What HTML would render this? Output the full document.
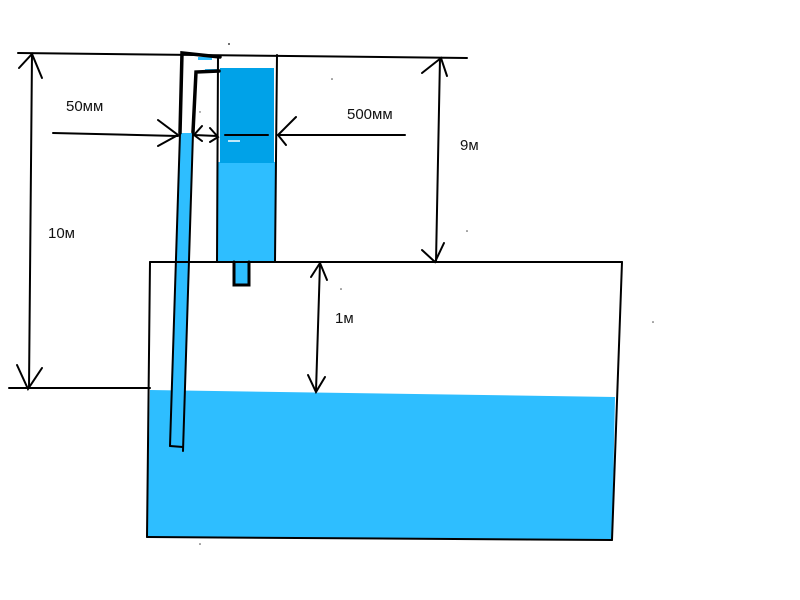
<!DOCTYPE html>
<html><head><meta charset="utf-8"><style>
html,body{margin:0;padding:0;background:#fff;}
svg{display:block;}
text{font-family:"Liberation Sans",Arial,sans-serif;font-size:15px;fill:#111;}
</style></head><body>
<svg width="800" height="600" viewBox="0 0 800 600" xmlns="http://www.w3.org/2000/svg">
<rect width="800" height="600" fill="#fff"/>
<!-- tank water -->
<polygon points="150,390 615,397 612,540 147,537" fill="#2ebeff"/>
<!-- column fills -->
<rect x="218" y="162" width="57" height="100" fill="#2ebeff"/>
<rect x="220" y="68" width="54" height="95" fill="#00a2e8"/>
<rect x="234" y="262" width="15" height="23" fill="#2ebeff"/>
<!-- thin pipe fill -->
<polygon points="180,133 193,133 183,449 170,446" fill="#2ebeff"/>
<rect x="198" y="57" width="14" height="3" fill="#2ebeff"/>
<rect x="205" y="69" width="12" height="3" fill="#2ebeff"/>
<g stroke="#000" stroke-width="2" fill="none" stroke-linecap="round">
<!-- top line -->
<line x1="18" y1="53" x2="467" y2="58"/>
<!-- 10m arrow -->
<line x1="32" y1="54" x2="29" y2="388"/>
<polyline points="19,68 32,54 42,78"/>
<polyline points="17,365 28,389 42,368"/>
<line x1="9" y1="388" x2="150" y2="388"/>
<!-- tank -->
<line x1="150" y1="262" x2="147" y2="537"/>
<line x1="150" y1="262" x2="622" y2="262"/>
<line x1="622" y1="262" x2="612" y2="540"/>
<line x1="147" y1="537" x2="612" y2="540"/>
<!-- column -->
<line x1="218" y1="57" x2="217" y2="262"/>
<line x1="277" y1="55" x2="275" y2="262"/>
<polyline points="234,262 234,285 249,285 249,262" stroke-width="3"/>
<line x1="225" y1="135" x2="268" y2="135"/>
<!-- thin pipe -->
<line x1="180" y1="133" x2="170" y2="446"/>
<line x1="193" y1="133" x2="183" y2="451"/>
<line x1="170" y1="446" x2="183" y2="447"/>
<!-- 50mm arrow -->
<line x1="53" y1="133" x2="178" y2="136"/>
<polyline points="158,120 178,135 158,146"/>
<!-- small double arrow -->
<line x1="194" y1="135" x2="217" y2="136"/>
<polyline points="202,126 194,135 202,141"/>
<polyline points="210,128 218,137 210,142"/>
<!-- 500mm arrow -->
<line x1="278" y1="135" x2="405" y2="135"/>
<polyline points="296,117 278,135 286,145"/>
<!-- 9m arrow -->
<line x1="440" y1="58" x2="436" y2="262"/>
<polyline points="422,73 441,58 447,76"/>
<polyline points="422,250 435,262 444,243"/>
<!-- 1m arrow -->
<line x1="320" y1="263" x2="316" y2="391"/>
<polyline points="311,277 320,263 327,280"/>
<polyline points="308,375 316,392 325,377"/>
</g>
<g stroke="#000" stroke-width="3.5" fill="none" stroke-linecap="round">
<polyline points="180,133 182,53 220,57"/>
<polyline points="193,132 196,72 219,71"/>
</g>
<line x1="228" y1="141" x2="240" y2="141" stroke="#fff" stroke-width="1.5"/>
<!-- stray dots -->
<g fill="#444">
<circle cx="229" cy="44" r="1"/><circle cx="332" cy="79" r="0.8"/><circle cx="467" cy="231" r="0.8"/>
<circle cx="653" cy="322" r="0.8"/><circle cx="341" cy="289" r="0.8"/><circle cx="200" cy="544" r="0.8"/>
<circle cx="200" cy="112" r="0.7"/>
</g>
<text x="66" y="111">50мм</text>
<text x="347" y="119">500мм</text>
<text x="460" y="150">9м</text>
<text x="48" y="238">10м</text>
<text x="335" y="323">1м</text>
</svg>
</body></html>
